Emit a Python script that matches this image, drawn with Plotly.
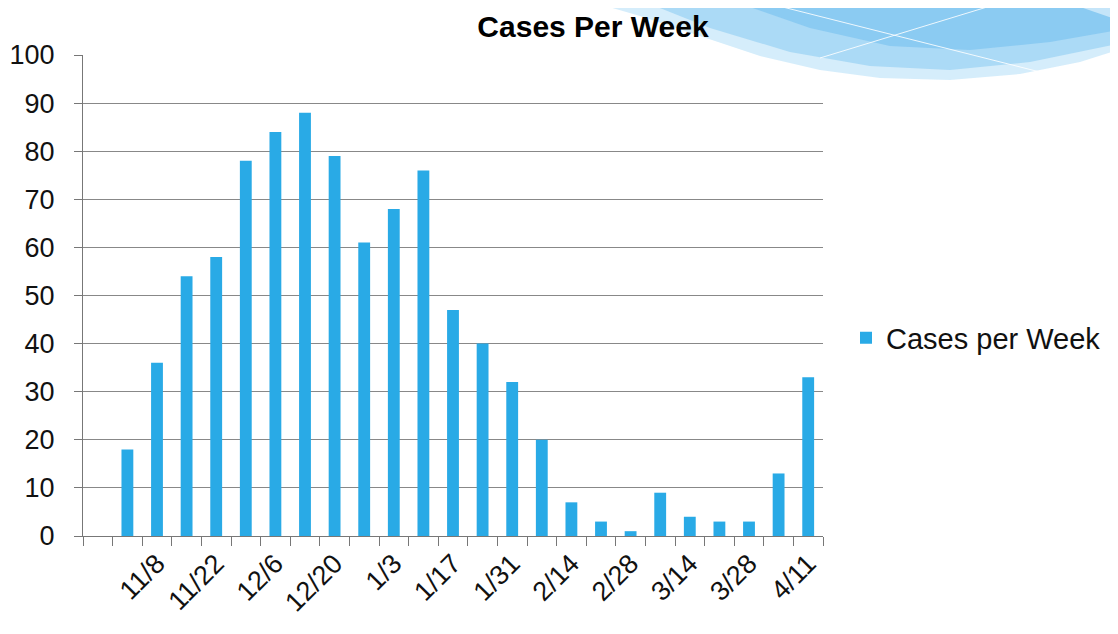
import plotly.graph_objects as go

weeks = ["10/25", "11/1", "11/8", "11/15", "11/22", "11/29", "12/6", "12/13", "12/20", "12/27",
         "1/3", "1/10", "1/17", "1/24", "1/31", "2/7", "2/14", "2/21", "2/28",
         "3/7", "3/14", "3/21", "3/28", "4/4", "4/11"]
cases = [None, 18, 36, 54, 58, 78, 84, 88, 79, 61, 68, 76, 47, 40, 32, 20, 7, 3, 1, 9, 4, 3, 3, 13, 33]
tick_labels = [w if (i % 2 == 0 and i > 0) else "" for i, w in enumerate(weeks)]
y_ticks = list(range(0, 101, 10))

BAR = "#29aae6"
FONT = "Arial, Liberation Sans, sans-serif"

# page has an 8px body margin, so the figure is sized to fit inside the viewport
OFF = 8
W, H = 1118 - OFF, 634 - OFF
X0, X1, Y0, Y1 = 83, 823, 55, 536          # plot area in page pixels
L, T = X0 - OFF, Y0 - OFF
R, B = W - L - (X1 - X0), H - T - (Y1 - Y0)
pw, ph = X1 - X0, Y1 - Y0

def px(x):
    return (x - X0) / pw

def py(y):
    return (Y1 - y) / ph

fig = go.Figure()
fig.add_trace(go.Bar(x=weeks, y=cases, name="Cases per Week", marker_color=BAR,
                     marker_line_width=0, showlegend=True))

# decorative swoosh in the top-right (slide background)
def swoosh(pts):
    return "M " + " L ".join(f"{px(a):.4f},{py(b):.4f}" for a, b in pts) + " Z"

layers = [
    ([(585, 0), (640, 16), (700, 36), (760, 56), (820, 70), (880, 78), (950, 80), (1020, 74), (1080, 62), (1118, 50), (1118, 0)], "rgba(185,225,248,0.6)"),
    ([(640, 0), (710, 28), (790, 52), (870, 66), (950, 70), (1030, 62), (1118, 44), (1118, 0)], "rgba(130,200,242,0.5)"),
    ([(730, 0), (810, 28), (890, 46), (970, 50), (1050, 42), (1118, 30), (1118, 0)], "rgba(100,185,238,0.45)"),
    ([(1060, 0), (1118, 20), (1118, 0)], "rgba(255,255,255,0.5)"),
]
shapes = []
for pts, col in layers:
    shapes.append(dict(type="path", path=swoosh(pts), xref="paper", yref="paper",
                       fillcolor=col, line=dict(width=0), layer="below"))
for (x0, y0, x1, y1) in [(755, 0, 1040, 72), (820, 58, 1010, 0)]:
    shapes.append(dict(type="line", xref="paper", yref="paper", x0=px(x0), y0=py(y0),
                       x1=px(x1), y1=py(y1), line=dict(color="rgba(255,255,255,0.85)", width=1),
                       layer="below"))

fig.update_layout(
    width=W, height=H,
    margin=dict(l=L, r=R, t=T, b=B, autoexpand=False),
    paper_bgcolor="white", plot_bgcolor="rgba(0,0,0,0)",
    font=dict(family=FONT, color="#111", size=27),
    title=dict(text="<b>Cases Per Week</b>", x=px(593), xref="paper", xanchor="center",
               y=1 - (26 - OFF) / H, yanchor="middle", font=dict(size=30, color="#000", family=FONT)),
    bargap=0.6,
    showlegend=True,
    legend=dict(x=px(846), y=py(338), xanchor="left", yanchor="middle",
                font=dict(size=29, color="#111"), bgcolor="rgba(0,0,0,0)",
                itemwidth=30),
    shapes=shapes,
)
fig.update_xaxes(type="category", tickmode="array", tickvals=weeks, ticktext=tick_labels,
                 tickson="boundaries", ticks="outside", ticklen=9, tickcolor="#777",
                 tickangle=-45, showline=True, linecolor="#777", linewidth=1,
                 range=[-0.5, len(weeks) - 0.5],
                 showgrid=False, automargin=False, tickfont=dict(size=27, color="#111"))
fig.update_yaxes(range=[0, 100], tickmode="array", tickvals=y_ticks, ticks="outside",
                 ticklen=8, tickcolor="#777", showline=True, linecolor="#777", linewidth=1,
                 showgrid=True, gridcolor="#888", gridwidth=1, zeroline=False,
                 ticklabelstandoff=14, automargin=False, tickfont=dict(size=27, color="#111"))

fig.write_html("out.html")
